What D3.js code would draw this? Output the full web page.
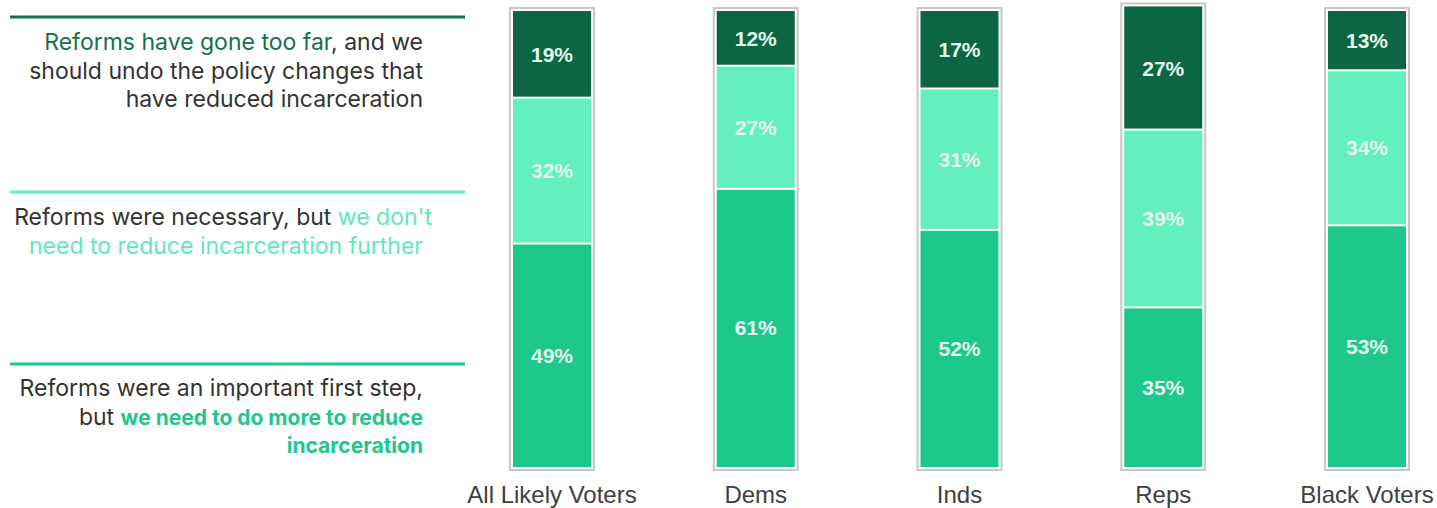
<!DOCTYPE html>
<html>
<head>
<meta charset="utf-8">
<script src="https://cdn.jsdelivr.net/npm/d3@7"></script>
<style>
  body { margin: 0; background: #fff; }
  svg { display: block; }
</style>
</head>
<body>
<svg id="chart" width="1437" height="508"></svg>
<script>
// Groups shown along the bottom.
const categories = ["All Likely Voters", "Dems", "Inds", "Reps", "Black Voters"];

// Stacked from the bottom up: more reform, stop here, undo.
const needMore = [49, 61, 52, 35, 53];
const noFurther = [32, 27, 31, 39, 34];
const goneTooFar = [19, 12, 17, 27, 13];

const seriesValues = [needMore, noFurther, goneTooFar];
const seriesColors = ["#1ec88b", "#64efbf", "#0c6644"];

const svg = d3.select("#chart");

// Scales: point centers for the groups, linear percent for the height.
const x = d3.scalePoint().domain(categories).range([552, 1367]);
const y = d3.scaleLinear().domain([0, 100]).range([467, 11]);
const barW = 78;

categories.forEach((cat, i) => {
  const cx = x(cat);
  const total = d3.sum(seriesValues, (s) => s[i]);
  const g = svg.append("g").attr("class", "bar");

  // Gray frame with a white gap around the stack.
  g.append("rect")
    .attr("x", cx - barW / 2 - 3)
    .attr("y", y(total) - 3)
    .attr("width", barW + 6)
    .attr("height", y(0) - y(total) + 6)
    .attr("fill", "#fff")
    .attr("stroke", "#c9c9c9")
    .attr("stroke-width", 2);

  let cum = 0;
  seriesValues.forEach((s, k) => {
    const v = s[i];
    const y0 = y(cum);
    const y1 = y(cum + v);
    const last = k === seriesValues.length - 1;
    g.append("rect")
      .attr("x", cx - barW / 2)
      .attr("y", y1 + (last ? 0 : 1))
      .attr("width", barW)
      .attr("height", y0 - y1 - (k > 0 ? 1 : 0) - (last ? 0 : 1))
      .attr("fill", seriesColors[k]);
    g.append("text")
      .attr("x", cx)
      .attr("y", (y0 + y1) / 2)
      .attr("dy", "0.36em")
      .attr("text-anchor", "middle")
      .style("font-family", "'Liberation Sans', Arial, sans-serif")
      .style("font-weight", "bold")
      .style("font-size", "21px")
      .style("fill", "#e4f6ee")
      .text(v + "%");
    cum += v;
  });

  // Category label below the bar.
  svg.append("text")
    .attr("x", cx)
    .attr("y", 503)
    .attr("text-anchor", "middle")
    .style("font-family", "'Liberation Sans', Arial, sans-serif")
    .style("font-size", "24px")
    .style("fill", "#404040")
    .text(cat);
});

// --- Legend on the left: rule + right-aligned text. ---
const legendFont = "Inter, 'Noto Sans', sans-serif";
const legend = [
  {
    ruleY: 17,
    color: "#17704f",
    lines: [
      { y: 50, parts: [["Reforms have gone too far", "#17704f", 400], [", and we", "#333", 400]] },
      { y: 79, parts: [["should undo the policy changes that", "#333", 400]] },
      { y: 107, parts: [["have reduced incarceration", "#333", 400]] },
    ],
  },
  {
    ruleY: 192,
    color: "#64efbf",
    lines: [
      { y: 225, x: 432, parts: [["Reforms were necessary, but ", "#333", 400], ["we don't", "#5fe9b9", 400]] },
      { y: 254, parts: [["need to reduce incarceration further", "#5fe9b9", 400]] },
    ],
  },
  {
    ruleY: 364,
    color: "#1ec88b",
    lines: [
      { y: 396, parts: [["Reforms were an important first step,", "#333", 400]] },
      { y: 425, parts: [["but ", "#333", 400], ["we need to do more to reduce", "#1ec88b", 700]] },
      { y: 453, parts: [["incarceration", "#1ec88b", 700]] },
    ],
  },
];

legend.forEach((item) => {
  svg.append("line")
    .attr("x1", 10)
    .attr("x2", 465)
    .attr("y1", item.ruleY)
    .attr("y2", item.ruleY)
    .attr("stroke", item.color)
    .attr("stroke-width", 3);

  item.lines.forEach((ln) => {
    const t = svg.append("text")
      .attr("x", ln.x || 423)
      .attr("y", ln.y)
      .attr("text-anchor", "end")
      .style("font-family", legendFont)
      .style("font-size", "23px");
    ln.parts.forEach(([txt, col, wt]) => {
      t.append("tspan")
        .style("fill", col)
        .style("font-weight", wt)
        .style("font-size", wt === 700 ? "21px" : "23px")
        .text(txt);
    });
  });
});
</script>
</body>
</html>
